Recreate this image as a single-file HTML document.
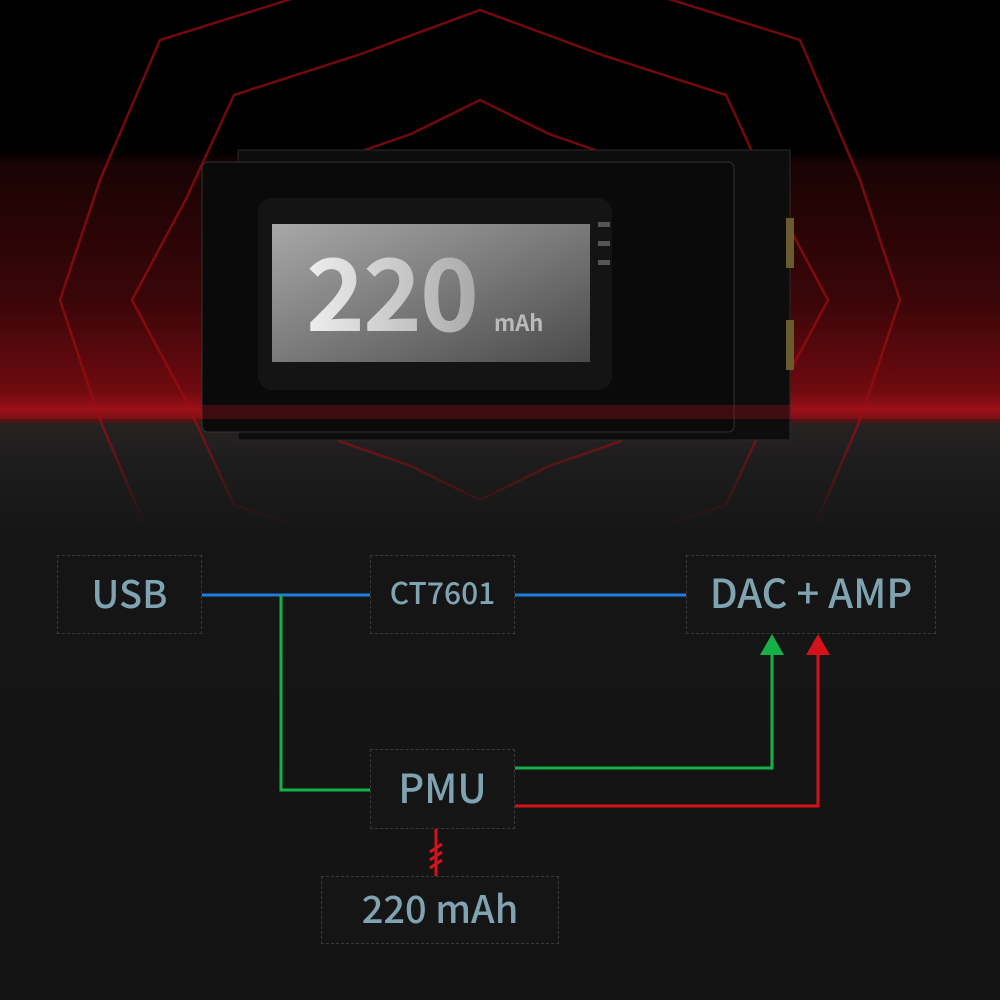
<!DOCTYPE html>
<html><head><style>
html,body{margin:0;padding:0}
body{width:1000px;height:1000px;position:relative;overflow:hidden;background:#141414;font-family:"Liberation Sans",sans-serif}
.bg{position:absolute;left:0;top:0;width:1000px;height:1000px;background:linear-gradient(to bottom,#000 0,#000 150px,#1a0304 165px,#3a0608 300px,#6e0a10 390px,#9a1018 410px,#5a1014 420px,#262222 425px,#1c1c1c 470px,#151515 540px,#141414 1000px)}
.box{position:absolute;border:1px dashed #3a3a3a;background:#151515;color:#7fa3b0;display:flex;align-items:center;justify-content:center;box-sizing:border-box;font-family:"Noto Sans CJK SC","Liberation Sans",sans-serif;font-weight:500;padding-bottom:7px}
</style></head><body>
<div class="bg"></div>
<svg width="1000" height="1000" style="position:absolute;left:0;top:0">
<defs>
<linearGradient id="lcd" x1="0" y1="0" x2="1" y2="1"><stop offset="0" stop-color="#a8a8a8"/><stop offset="0.5" stop-color="#7a7a7a"/><stop offset="1" stop-color="#4a4a4a"/></linearGradient>
<linearGradient id="txt" x1="0" y1="0" x2="1" y2="0"><stop offset="0" stop-color="#eee"/><stop offset="1" stop-color="#aaa"/></linearGradient>
<linearGradient id="fg" gradientUnits="userSpaceOnUse" x1="0" y1="0" x2="0" y2="1000"><stop offset="0" stop-color="#fff"/><stop offset="0.43" stop-color="#fff"/><stop offset="0.53" stop-color="#000"/><stop offset="1" stop-color="#000"/></linearGradient>
<mask id="m"><rect width="1000" height="1000" fill="url(#fg)"/></mask>
</defs>
<g fill="none" stroke="#9a0c12" stroke-width="2.5" opacity="0.75" mask="url(#m)">
<polygon points="680,300 646,369 621,441 549,466 480,500 411,466 339,441 314,369 280,300 314,231 339,159 411,134 480,100 549,134 621,159 646,231"/>
<polygon points="828,300 774,401 726,505 602,545 480,590 358,545 234,505 186,401 132,300 186,199 234,95 358,55 480,10 602,55 726,95 774,199"/>
<polygon points="900,300 860,420 800,560 640,610 480,660 320,610 160,560 100,420 60,300 100,180 160,40 320,-10 480,-40 640,-10 800,40 860,180"/>
</g>
<rect x="238" y="150" width="552" height="290" fill="#0d0d0d" stroke="#2a2a2a"/>
<rect x="202" y="162" width="532" height="270" rx="6" fill="#0a0a0a" stroke="#333"/>
<rect x="258" y="198" width="354" height="192" rx="14" fill="#141414"/>
<rect x="272" y="224" width="318" height="138" fill="url(#lcd)"/>
<text x="306" y="331" font-size="100" font-weight="bold" fill="url(#txt)" letter-spacing="-2" font-family="Noto Sans CJK SC,Liberation Sans,sans-serif">220</text>
<text x="494" y="331" font-size="22" font-weight="bold" fill="#bbb" font-family="Noto Sans CJK SC,Liberation Sans,sans-serif">mAh</text>
<rect x="598" y="222" width="12" height="5" fill="#555"/><rect x="598" y="241" width="12" height="5" fill="#555"/><rect x="598" y="260" width="12" height="5" fill="#555"/>
<rect x="786" y="218" width="8" height="50" fill="#6a5a30"/><rect x="786" y="320" width="8" height="50" fill="#6a5a30"/>
<rect x="0" y="405" width="1000" height="14" fill="#a01018" opacity="0.35"/>
<g fill="none" stroke-width="3">
<path d="M201 595H370M514 595H686" stroke="#1e7de0"/>
<path d="M281 595V790H370" stroke="#16b04a"/>
<path d="M514 768H772V652" stroke="#16b04a"/>
<path d="M514 806H818V652" stroke="#d4121a"/>
<path d="M436 828V876M430 852L442 844M430 860L442 852M430 868L442 860" stroke="#d4121a"/>
</g>
<polygon points="760,655 784,655 772,634" fill="#16b04a"/>
<polygon points="806,655 830,655 818,634" fill="#d4121a"/>
</svg>
<div class="box" style="left:57px;top:555px;width:145px;height:79px;font-size:38px">USB</div>
<div class="box" style="left:370px;top:555px;width:145px;height:79px;font-size:30px">CT7601</div>
<div class="box" style="left:686px;top:555px;width:250px;height:79px;font-size:40px">DAC + AMP</div>
<div class="box" style="left:370px;top:749px;width:145px;height:80px;font-size:40px">PMU</div>
<div class="box" style="left:321px;top:876px;width:238px;height:68px;font-size:38px">220 mAh</div>
</body></html>
